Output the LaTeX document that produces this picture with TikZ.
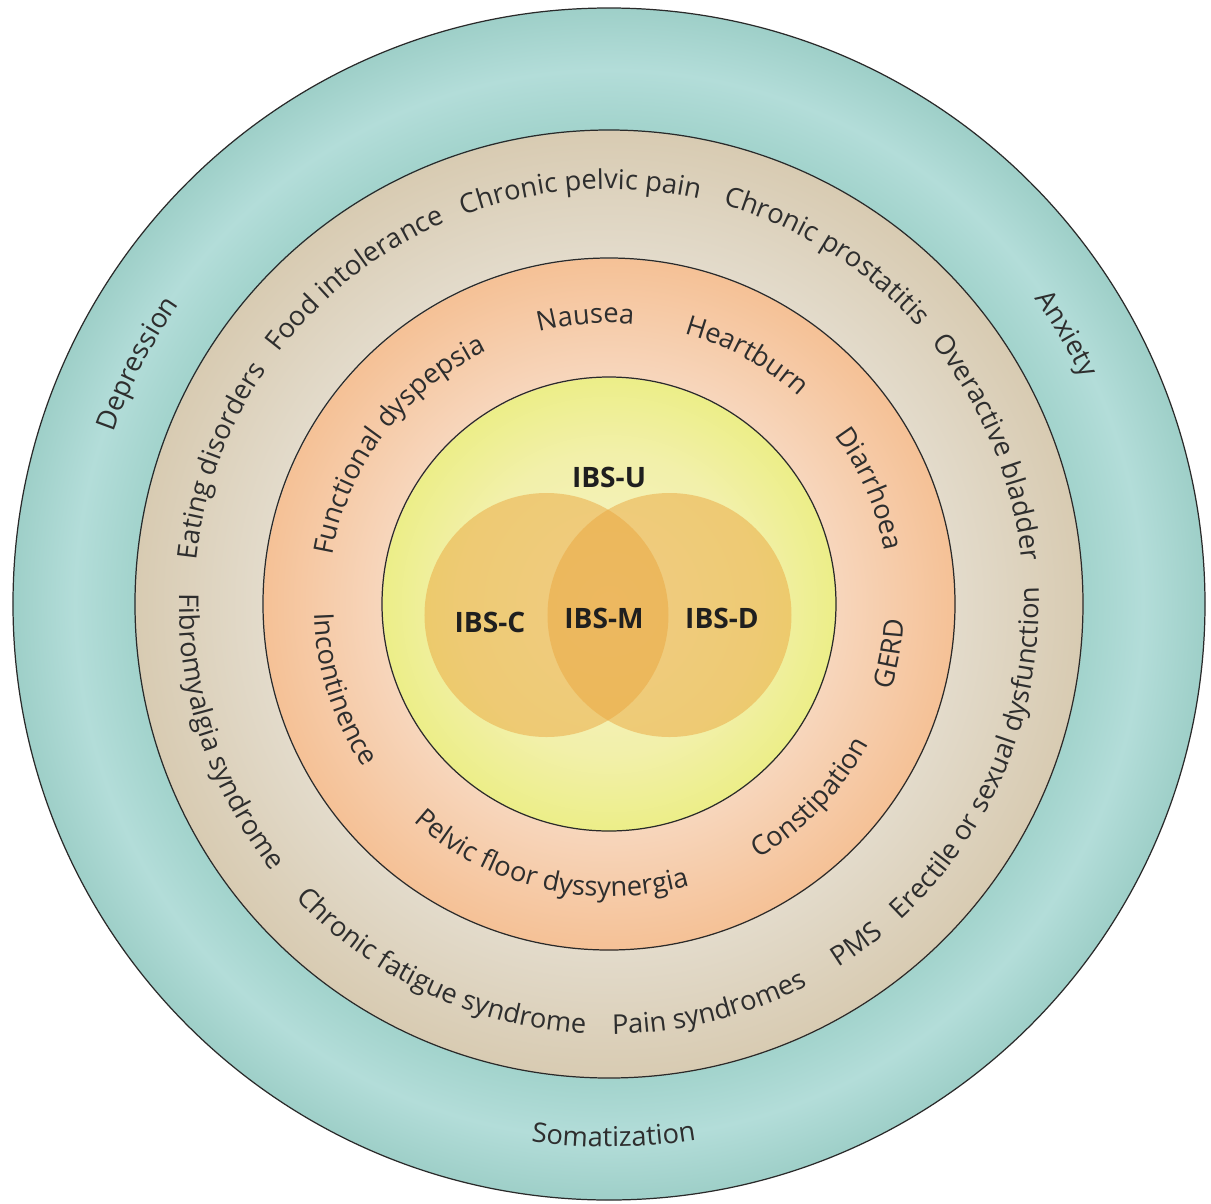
\documentclass[tikz,border=0pt]{standalone}
\usepackage{fontspec}
\setmainfont{Open Sans}
\usetikzlibrary{decorations.text}
\definecolor{y0}{HTML}{F6F3C8}
\definecolor{y1}{HTML}{F2F0AA}
\definecolor{y2}{HTML}{ECEE88}
\definecolor{o0}{HTML}{F7D6BC}
\definecolor{o1}{HTML}{F5C196}
\definecolor{b0}{HTML}{E3DBCB}
\definecolor{b1}{HTML}{D8CBB2}
\definecolor{t0}{HTML}{A2D3CC}
\definecolor{t1}{HTML}{B3DDD9}
\definecolor{t2}{HTML}{9ECFC8}
\definecolor{vennc}{HTML}{EBA63F}
\definecolor{txtc}{HTML}{2E2E2E}
\definecolor{linec}{HTML}{2A2A2A}
\pgfdeclareradialshading{rings}{\pgfpointorigin}{%
color(0bp)=(y0); color(6.3bp)=(y1); color(9.52bp)=(y2);
color(9.53bp)=(o0); color(14.50bp)=(o1);
color(14.51bp)=(b0); color(19.87bp)=(b1);
color(19.88bp)=(t0); color(22.4bp)=(t1); color(25bp)=(t2); color(50bp)=(t2)}
\newcommand\ringfont{\fontsize{15.5}{18}\selectfont}
\newcommand\cwtext[4]{\path[ringtext={#4}] ({#1+#3}:#2) arc[start angle={#1+#3}, end angle={#1-#3}, radius=#2 cm];}
\newcommand\ccwtext[4]{\path[ringtext={#4}] ({#1-#3}:#2) arc[start angle={#1-#3}, end angle={#1+#3}, radius=#2 cm];}
\begin{document}
\begin{tikzpicture}[
  ringline/.style={draw=linec, line width=0.7pt},
  venn/.style={fill=vennc, fill opacity=0.5},
  ibs/.style={font=\fontsize{16}{19}\selectfont\bfseries, text=black!88},
  ringtext/.style={decorate, decoration={text along path, text align=center, text color=txtc, text={|\ringfont|#1}}}
]
\useasboundingbox (-12.18,-11.98) rectangle (12.04,12.08);
\fill[white] (-12.18,-11.98) rectangle (12.04,12.08);
% rings
\shade[shading=rings] (0,0) circle[radius=11.92cm];
\draw[ringline] (0,0) circle[radius=11.92cm];
\draw[ringline] (0,0) circle[radius=9.48cm];
\draw[ringline] (0,0) circle[radius=6.92cm];
\draw[ringline] (0,0) circle[radius=4.54cm];
% venn
\fill[venn] (-1.25,-0.22) circle[radius=2.44cm];
\fill[venn] (1.21,-0.22) circle[radius=2.44cm];
\node[ibs] (ibsu) at (0,2.54) {IBS-U};
\node[ibs] (ibsc) at (-2.38,-0.36) {IBS-C};
\node[ibs] (ibsm) at (-0.1,-0.28) {IBS-M};
\node[ibs] (ibsd) at (2.26,-0.28) {IBS-D};
% outer ring
\cwtext{153}{10.48}{40}{Depression}
\cwtext{30.6}{10.48}{40}{Anxiety}
\ccwtext{-89.5}{10.86}{40}{Somatization}
% beige ring
\cwtext{159.8}{8.3}{50}{Eating disorders}
\cwtext{128}{8.3}{50}{Food intolerance}
\cwtext{94}{8.3}{50}{Chronic pelvic pain}
\cwtext{58}{8.3}{50}{Chronic prostatitis}
\cwtext{22.5}{8.3}{50}{Overactive bladder}
\ccwtext{-22.5}{8.6}{60}{Erectile or sexual dysfunction}
\ccwtext{-54}{8.6}{40}{PMS}
\ccwtext{-76}{8.6}{50}{Pain syndromes}
\ccwtext{-115}{8.6}{50}{Chronic fatigue syndrome}
\ccwtext{-161.5}{8.6}{50}{Fibromyalgia syndrome}
% orange ring
\cwtext{143}{5.62}{60}{Functional dyspepsia}
\cwtext{94.7}{5.62}{50}{Nausea}
\cwtext{61}{5.62}{50}{Heartburn}
\cwtext{23.8}{5.62}{50}{Diarrhoea}
\ccwtext{-10}{5.9}{50}{GERD}
\ccwtext{-44}{5.9}{50}{Constipation}
\ccwtext{-103}{5.85}{70}{Pelvic floor dyssynergia}
\ccwtext{-162.3}{5.9}{50}{Incontinence}
\end{tikzpicture}
\end{document}
